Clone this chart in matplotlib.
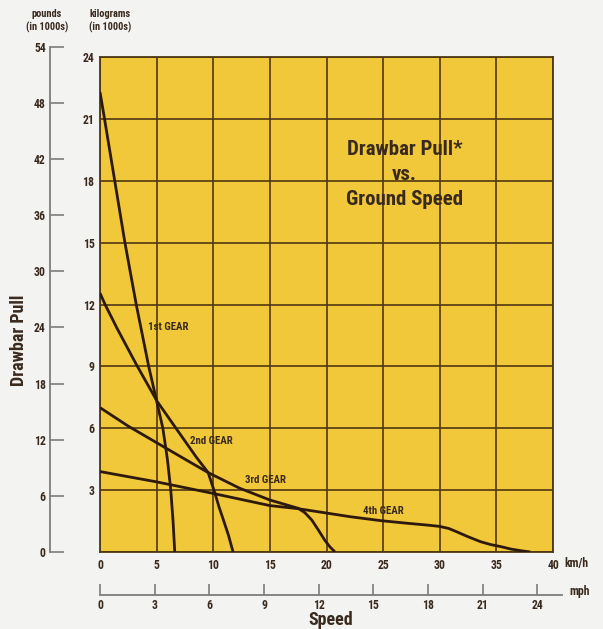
import matplotlib
matplotlib.use('Agg')
import matplotlib.pyplot as plt
from matplotlib import font_manager as fm

# ---------------- data ----------------
kmh_ticks = list(range(0, 41, 5))
kg_ticks = list(range(0, 25, 3))
lb_ticks = list(range(0, 55, 6))
mph_ticks = list(range(0, 25, 3))

gear1_kmh = [0, 0.4, 1.3, 2.2, 3.2, 4.3, 5.05, 5.55, 5.95, 6.25, 6.45, 6.6]
gear1_kg = [22.3, 21, 18, 15, 12, 9, 7.2, 6, 4.5, 3, 1.5, 0]

gear2_kmh = [0, 0.45, 1.5, 3.2, 5.05, 6.9, 8.5, 9.55, 9.85, 10.15, 10.5, 10.9, 11.35, 11.75]
gear2_kg = [12.55, 12.0, 10.85, 9.1, 7.3, 5.85, 4.6, 3.85, 3.35, 2.85, 2.2, 1.55, 0.8, 0]

gear3_kmh = [0, 2.5, 5.0, 7.5, 9.55, 12.3, 15, 16.5, 17.5, 18.1, 18.7, 19.3, 19.85, 20.3, 20.75]
gear3_kg = [7.0, 6.1, 5.3, 4.5, 3.85, 3.1, 2.52, 2.28, 2.12, 1.9, 1.55, 1.05, 0.57, 0.25, 0]

gear4_kmh = [0, 5, 9.9, 15, 17.5, 20.1, 22.1, 24.8, 27, 29, 30, 30.8, 31.5, 32.5, 33.6,
             34.5, 35.4, 36.3, 37.2, 38]
gear4_kg = [3.9, 3.4, 2.85, 2.25, 2.1, 1.88, 1.71, 1.52, 1.4, 1.3, 1.24, 1.14, 0.98, 0.74, 0.5,
            0.36, 0.26, 0.14, 0.06, 0]

gear_labels = ['1st GEAR', '2nd GEAR', '3rd GEAR', '4th GEAR']
gear_label_pos_kmh = [6.0, 9.8, 14.6, 25.0]
gear_label_pos_kg = [10.9, 5.38, 3.5, 2.0]

title_text = 'Drawbar Pull*\nvs.\nGround Speed'

LB_PER_KG = 2.20462
KMH_PER_MPH = 1.60934

# ---------------- fonts ----------------
FAM = ['DejaVu Sans']
STRETCH = 'normal'
S = 0.82
for pref in ['Liberation Sans Narrow', 'Roboto Condensed', 'Open Sans Condensed',
             'DejaVu Sans Condensed']:
    hits = [f for f in fm.fontManager.ttflist if f.name == pref]
    if hits:
        FAM = [pref, 'DejaVu Sans']
        STRETCH = hits[0].stretch
        S = 1.0
        break
else:
    hits = [f for f in fm.fontManager.ttflist
            if f.name == 'DejaVu Sans' and str(f.stretch) in ('condensed', 'semi-condensed')]
    if hits:
        STRETCH = 'condensed'
        S = 0.92
plt.rcParams['font.family'] = FAM
plt.rcParams['font.stretch'] = STRETCH

BG = '#f3f3f1'
YEL = '#f1c83a'
GRID = '#4f3812'
CURVE = '#2e1a0c'
TXT = '#3a2a1e'
AX_GRAY = '#7d7d7d'

W, H = 603, 629
fig = plt.figure(figsize=(W / 100, H / 100), dpi=100, facecolor=BG)

# main plot: px 100..553 horizontally, 57..552 vertically
L, R, T, B = 100, 553, 57, 552
ax = fig.add_axes([L / W, 1 - B / H, (R - L) / W, (B - T) / H])
ax.set_facecolor(YEL)
ax.set_xlim(0, 40)
ax.set_ylim(0, 24)
ax.set_xticks(kmh_ticks)
ax.set_yticks(kg_ticks)
ax.set_xticklabels([str(v) for v in kmh_ticks])
ax.set_yticklabels([''] + [str(v) for v in kg_ticks[1:]])
ax.grid(True, color=GRID, lw=1.2)
ax.set_axisbelow(True)
ax.tick_params(length=0, labelsize=8.5 * S, labelcolor=TXT)
ax.tick_params(axis='x', pad=5)
ax.tick_params(axis='y', pad=4)
for lab in ax.get_xticklabels() + ax.get_yticklabels():
    lab.set_fontweight('bold')
for sp in ax.spines.values():
    sp.set_color(GRID)
    sp.set_linewidth(1.3)

for xs, ys in [(gear1_kmh, gear1_kg), (gear2_kmh, gear2_kg),
               (gear3_kmh, gear3_kg), (gear4_kmh, gear4_kg)]:
    ax.plot(xs, ys, color=CURVE, lw=2.0, solid_capstyle='butt',
            solid_joinstyle='round', zorder=3)

for lab, gx, gy in zip(gear_labels, gear_label_pos_kmh, gear_label_pos_kg):
    ax.text(gx, gy, lab, ha='center', va='center', fontsize=7.8 * S,
            fontweight='bold', color=TXT, zorder=4)

ax.text(26.9, 18.28, title_text, ha='center', va='center',
        fontsize=15 * S, fontweight='bold', color=TXT, linespacing=1.4, zorder=4)

# pounds axis
lb_h = 54 / LB_PER_KG * (B - T) / 24
axp = fig.add_axes([50 / W, 1 - B / H, 0.0001, lb_h / H])
axp.set_ylim(0, 54)
axp.set_yticks(lb_ticks)
axp.set_xticks([])
axp.patch.set_visible(False)
for k in ['right', 'top', 'bottom']:
    axp.spines[k].set_visible(False)
axp.spines['left'].set_color(AX_GRAY)
axp.spines['left'].set_linewidth(1.3)
axp.tick_params(axis='y', direction='in', length=10, width=1.2, color=AX_GRAY,
                labelsize=8.5 * S, labelcolor=TXT, pad=3)
for lab in axp.get_yticklabels():
    lab.set_fontweight('bold')

# mph axis
mph_y = 595
mph_right = 562
axm = fig.add_axes([L / W, 1 - mph_y / H, (mph_right - L) / W, 0.0001])
axm.set_xlim(0, (mph_right - L) / ((R - L) / 40) / KMH_PER_MPH)
axm.set_xticks(mph_ticks)
axm.set_xticks([0], minor=True)
axm.set_yticks([])
axm.patch.set_visible(False)
for k in ['left', 'right', 'top']:
    axm.spines[k].set_visible(False)
axm.spines['bottom'].set_color(AX_GRAY)
axm.spines['bottom'].set_linewidth(1.3)
axm.tick_params(axis='x', which='major', direction='in', length=8, width=1.2,
                color=AX_GRAY, labelsize=8.5 * S, labelcolor=TXT, pad=3)
axm.tick_params(axis='x', which='minor', direction='in', length=13, width=1.2,
                color=AX_GRAY)
for lab in axm.get_xticklabels():
    lab.set_fontweight('bold')

# texts
fig.text(576 / W, 1 - 563 / H, 'km/h', ha='center', va='center', fontsize=8.5 * S,
         fontweight='bold', color=TXT)
fig.text(580 / W, 1 - 591 / H, 'mph', ha='center', va='center', fontsize=8.5 * S,
         fontweight='bold', color=TXT)
fig.text(331 / W, 1 - 620 / H, 'Speed', ha='center', va='center', fontsize=13 * S,
         fontweight='bold', color=TXT)
fig.text(19 / W, 1 - 340 / H, 'Drawbar Pull', ha='center', va='center', rotation=90,
         fontsize=13 * S, fontweight='bold', color=TXT)
fig.text(47 / W, 1 - 21 / H, 'pounds\n(in 1000s)', ha='center', va='center',
         fontsize=7.5 * S, fontweight='bold', color=TXT, linespacing=1.3)
fig.text(110 / W, 1 - 21 / H, 'kilograms\n(in 1000s)', ha='center', va='center',
         fontsize=7.5 * S, fontweight='bold', color=TXT, linespacing=1.3)

fig.savefig('out.png', dpi=100, facecolor=BG)
